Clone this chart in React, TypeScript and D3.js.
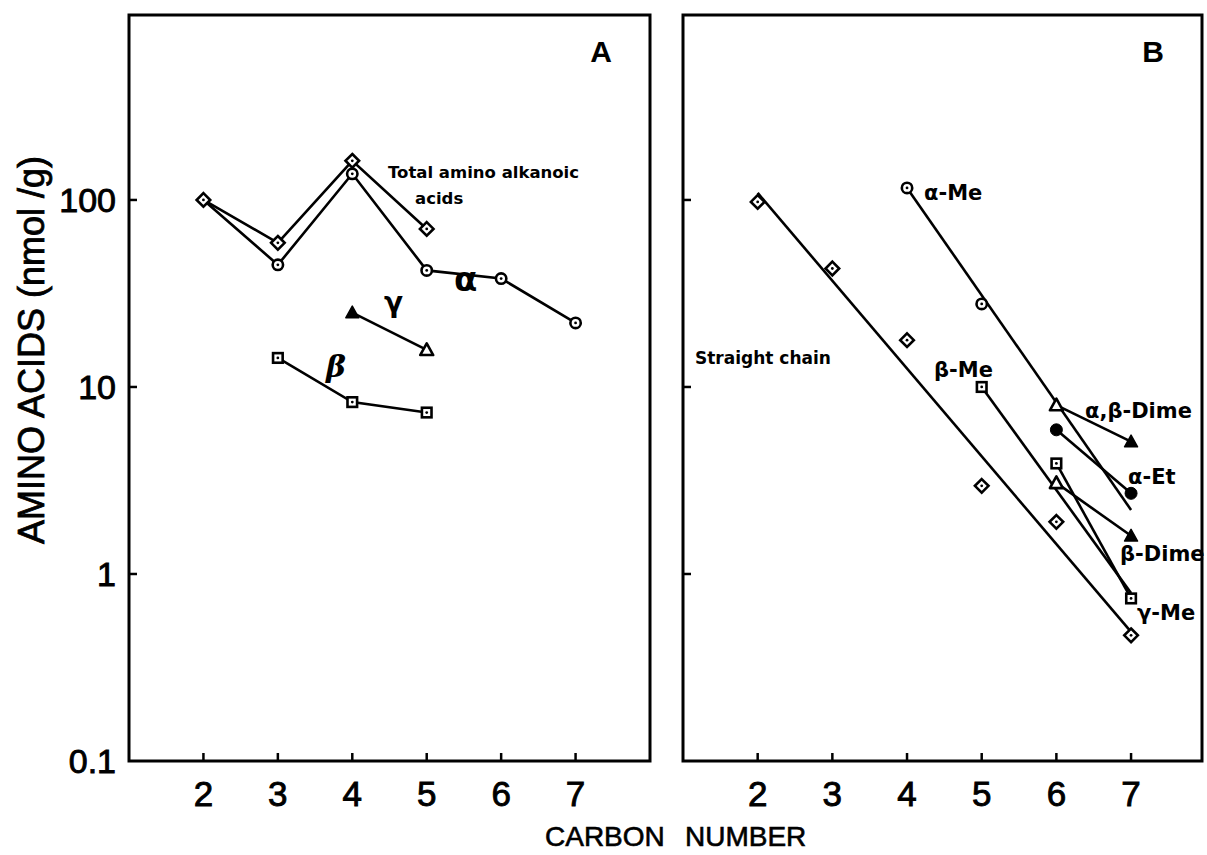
import React from "react";
import * as d3 from "d3";

// ---------- data ----------
const xTicks = [2, 3, 4, 5, 6, 7];
const yTicks = [1, 10, 100];
const yTickLabels = ["0.1", "1", "10", "100"];
const yTickLabelValues = [0.1, 1, 10, 100];

// Panel A
const totalX = [2, 3, 4, 5];
const totalVals = [100, 59, 162, 70];
const alphaAX = [2, 3, 4, 5, 6, 7];
const alphaAVals = [100, 45, 138, 42, 38, 22];
const gammaAX = [4, 5];
const gammaAVals = [25, 15.8];
const betaAX = [3, 4, 5];
const betaAVals = [14.3, 8.3, 7.3];

// Panel B
const straightX = [2, 3, 4, 5, 6, 7];
const straightVals = [97.6, 43, 17.8, 2.96, 1.9, 0.47];
const straightFitX = [2, 7];
const straightFitVals = [109, 0.49];
const alphaMeX = [4, 5];
const alphaMeVals = [116, 27.8];
const alphaMeFitX = [4, 7];
const alphaMeFitVals = [116, 2.2];
const betaMeX = [5];
const betaMeVals = [10];
const betaMeFitX = [5, 7];
const betaMeFitVals = [10, 0.79];
const gammaMeX = [6, 7];
const gammaMeVals = [3.9, 0.74];
const abDimeX = [6, 7];
const abDimeVals = [8.0, 5.1];
const alphaEtX = [6, 7];
const alphaEtVals = [5.9, 2.7];
const betaDimeX = [6, 7];
const betaDimeVals = [3.07, 1.6];

// ---------- scales ----------
const Y_TOP = 15;
const Y_BOT = 761;
const y = d3.scaleLog().domain([0.1, 975]).range([Y_BOT, Y_TOP]);
const xA = d3.scaleLinear().domain([1, 8]).range([129, 650]);
const xB = d3.scaleLinear().domain([1, 7.95]).range([683, 1202]);

const SW = 2.6;
const labelFont = "'DejaVu Sans', sans-serif";
const axisFont = "'Liberation Sans', Arial, sans-serif";

type MType = "diamond" | "circle" | "square" | "tri" | "triFilled" | "circleFilled" | "none";

function Marker({ cx, cy, type }: { cx: number; cy: number; type: MType }) {
  if (type === "none") return null;
  const dot = <circle cx={cx} cy={cy} r={1.4} fill="#000" />;
  if (type === "diamond") {
    const h = 6.8;
    return (
      <g>
        <path d={`M${cx},${cy - h}L${cx + h},${cy}L${cx},${cy + h}L${cx - h},${cy}Z`} fill="#fff" stroke="#000" strokeWidth={SW} />
        {dot}
      </g>
    );
  }
  if (type === "circle") {
    return (
      <g>
        <circle cx={cx} cy={cy} r={5.2} fill="#fff" stroke="#000" strokeWidth={SW} />
        {dot}
      </g>
    );
  }
  if (type === "circleFilled") {
    return <circle cx={cx} cy={cy} r={6} fill="#000" stroke="#000" strokeWidth={1} />;
  }
  if (type === "square") {
    const h = 4.8;
    return (
      <g>
        <rect x={cx - h} y={cy - h} width={2 * h} height={2 * h} fill="#fff" stroke="#000" strokeWidth={SW} />
        {dot}
      </g>
    );
  }
  const s = 6.5;
  const p = `M${cx},${cy - s}L${cx + s},${cy + s * 0.8}L${cx - s},${cy + s * 0.8}Z`;
  if (type === "tri") {
    return <path d={p} fill="#fff" stroke="#000" strokeWidth={SW} strokeLinejoin="round" />;
  }
  return <path d={p} fill="#000" stroke="#000" strokeWidth={1.5} strokeLinejoin="round" />;
}

const line = d3.line<[number, number]>().x((d) => d[0]).y((d) => d[1]);

function Series({
  xs,
  vs,
  sx,
  marker = "none",
  markers,
  drawLine = true,
  skipFirstMarker = false,
}: {
  xs: number[];
  vs: number[];
  sx: d3.ScaleLinear<number, number>;
  marker?: MType;
  markers?: MType[];
  drawLine?: boolean;
  skipFirstMarker?: boolean;
}) {
  const pts: [number, number][] = xs.map((x, i) => [sx(x), y(vs[i])]);
  return (
    <g>
      {drawLine && pts.length > 1 && <path d={line(pts) || ""} fill="none" stroke="#000" strokeWidth={SW} />}
      {pts.map((p, i) =>
        skipFirstMarker && i === 0 ? null : (
          <Marker key={i} cx={p[0]} cy={p[1]} type={markers ? markers[i] || "none" : marker} />
        )
      )}
    </g>
  );
}

function Frame({ sx, showYLabels }: { sx: d3.ScaleLinear<number, number>; showYLabels: boolean }) {
  const [x0, x1] = sx.range();
  return (
    <g>
      <rect x={x0} y={Y_TOP} width={x1 - x0} height={Y_BOT - Y_TOP} fill="none" stroke="#000" strokeWidth={3} />
      {yTicks.map((t) => (
        <line key={t} x1={x0} x2={x0 + 8} y1={y(t)} y2={y(t)} stroke="#000" strokeWidth={2.5} />
      ))}
      {xTicks.map((t) => (
        <g key={t}>
          <line x1={sx(t)} x2={sx(t)} y1={Y_BOT} y2={Y_BOT - 8} stroke="#000" strokeWidth={2.5} />
          <text
            x={sx(t)}
            y={806}
            textAnchor="middle"
            fontFamily={axisFont}
            fontSize={35}
            stroke="#000"
            strokeWidth={0.9}
          >
            {t}
          </text>
        </g>
      ))}
      {showYLabels &&
        yTickLabelValues.map((v, i) => (
          <text
            key={v}
            x={116}
            y={y(v) + 12}
            textAnchor="end"
            fontFamily={axisFont}
            fontSize={34}
            stroke="#000"
            strokeWidth={0.9}
          >
            {yTickLabels[i]}
          </text>
        ))}
    </g>
  );
}

function Label({ x, y: yy, size, children, family = labelFont, weight = "bold", style }: any) {
  return (
    <text x={x} y={yy} fontFamily={family} fontSize={size} fontWeight={weight} fontStyle={style} fill="#000">
      {children}
    </text>
  );
}

export default function App() {
  return (
    <svg
      width={1207}
      height={855}
      style={{ position: "absolute", left: 0, top: 0, background: "#fff" }}
    >
      <rect x={0} y={0} width={1207} height={855} fill="#fff" />

      {/* Panel A */}
      <Frame sx={xA} showYLabels={true} />
      <Series xs={alphaAX} vs={alphaAVals} sx={xA} marker="circle" skipFirstMarker />
      <Series xs={totalX} vs={totalVals} sx={xA} marker="diamond" />
      <Series xs={gammaAX} vs={gammaAVals} sx={xA} markers={["triFilled", "tri"]} />
      <Series xs={betaAX} vs={betaAVals} sx={xA} marker="square" />

      <Label x={388} y={178} size={16.5}>Total amino alkanoic</Label>
      <Label x={415} y={204} size={16.5}>acids</Label>
      <Label x={454} y={291} size={34} weight="bold">α</Label>
      <Label x={384} y={312} size={28} weight="bold">γ</Label>
      <Label x={326} y={377} size={30} weight="bold" family="'DejaVu Serif', serif" style="italic">β</Label>
      <text x={601} y={62} textAnchor="middle" fontFamily={axisFont} fontWeight="bold" fontSize={30}>A</text>

      {/* Panel B */}
      <Frame sx={xB} showYLabels={false} />
      <Series xs={straightFitX} vs={straightFitVals} sx={xB} />
      <Series xs={straightX} vs={straightVals} sx={xB} marker="diamond" drawLine={false} />
      <Series xs={alphaMeFitX} vs={alphaMeFitVals} sx={xB} />
      <Series xs={alphaMeX} vs={alphaMeVals} sx={xB} marker="circle" drawLine={false} />
      <Series xs={betaMeFitX} vs={betaMeFitVals} sx={xB} />
      <Series xs={betaMeX} vs={betaMeVals} sx={xB} marker="square" drawLine={false} />
      <Series xs={gammaMeX} vs={gammaMeVals} sx={xB} marker="square" />
      <Series xs={abDimeX} vs={abDimeVals} sx={xB} markers={["tri", "triFilled"]} />
      <Series xs={alphaEtX} vs={alphaEtVals} sx={xB} marker="circleFilled" />
      <Series xs={betaDimeX} vs={betaDimeVals} sx={xB} markers={["tri", "triFilled"]} />

      <Label x={924} y={200} size={21}>α-Me</Label>
      <Label x={695} y={364} size={17}>Straight chain</Label>
      <Label x={934} y={377} size={21}>β-Me</Label>
      <Label x={1085} y={418} size={21}>α,β-Dime</Label>
      <Label x={1128} y={484} size={21}>α-Et</Label>
      <Label x={1120} y={561} size={21}>β-Dime</Label>
      <Label x={1137} y={620} size={21}>γ-Me</Label>
      <text x={1153} y={62} textAnchor="middle" fontFamily={axisFont} fontWeight="bold" fontSize={30}>B</text>

      {/* axis titles */}
      <text
        transform="translate(44,350) rotate(-90)"
        textAnchor="middle"
        fontFamily={axisFont}
        fontSize={36}
        stroke="#000"
        strokeWidth={0.8}
      >
        AMINO ACIDS (nmol /g)
      </text>
      <text x={545} y={846} fontFamily={axisFont} fontSize={28} stroke="#000" strokeWidth={0.6}>CARBON</text>
      <text x={685} y={846} fontFamily={axisFont} fontSize={28} stroke="#000" strokeWidth={0.6}>NUMBER</text>
    </svg>
  );
}
